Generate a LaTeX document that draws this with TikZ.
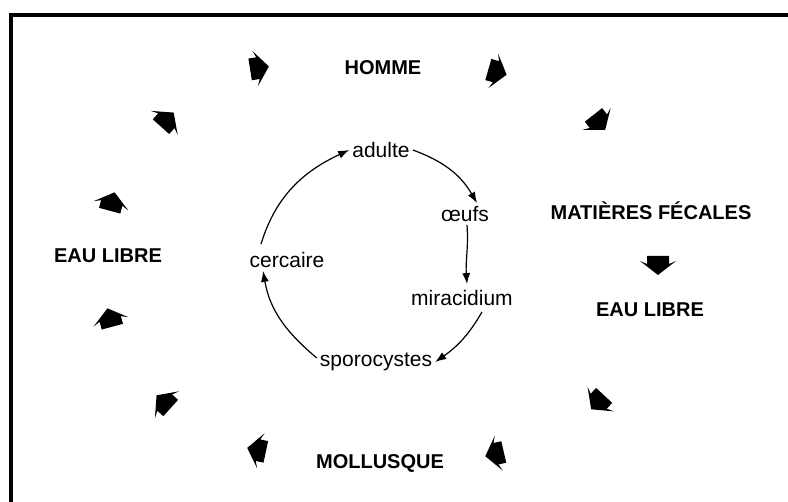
\documentclass[tikz,border=0pt]{standalone}
\usepackage{fontspec}
\setmainfont{Liberation Sans}
\usetikzlibrary{arrows.meta}
\begin{document}
\begin{tikzpicture}[x=1pt,y=1pt,
  host/.style={font=\fontsize{20}{23}\selectfont\bfseries},
  stage/.style={font=\fontsize{21}{24}\selectfont, inner sep=3pt},
  link/.style={-{Latex[length=11pt,width=8pt]}, line width=1.2pt}]
\useasboundingbox (0,0) rectangle (788,502);
\draw[line width=4.5pt] (11,0) |- (788,487);

\node[host] (homme) at (383,434) {HOMME};
\node[host] (feces) at (651,291) {MATIÈRES FÉCALES};
\node[host] (eauR) at (650,192) {EAU LIBRE};
\node[host] (mollusque) at (380,39) {MOLLUSQUE};
\node[host] (eauL) at (108,246) {EAU LIBRE};

\node[stage] (adulte) at (381,352) {adulte};
\node[stage] (oeufs) at (465,288) {œufs};
\node[stage] (miracidium) at (462,204) {miracidium};
\node[stage] (sporocystes) at (376,140) {sporocystes};
\node[stage] (cercaire) at (287,242) {cercaire};

\draw[link] ([xshift=-26pt,yshift=5pt]cercaire.north) to[out=73,in=205] (adulte.west);
\draw[link] (adulte.east) to[out=-20,in=120] ([xshift=12pt]oeufs.north);
\draw[link] ([xshift=2pt]oeufs.south) to[out=-86,in=94] ([xshift=5pt,yshift=3pt]miracidium.north);
\draw[link] ([xshift=20pt,yshift=-3pt]miracidium.south) to[out=240,in=35] (sporocystes.east);
\draw[link] ([yshift=4pt]sporocystes.west) to[out=140,in=-80] ([xshift=-24pt]cercaire.south);

\foreach \x/\y/\a in {
259/434/9, 497/430/-16, 167/382/48, 599/380/-52,
112/300/75, 110/184/105, 658/237/-90,
164/100/138, 598/100/227, 257/52/168, 495/48/193
}{
  \fill[shift={(\x,\y)}, rotate=\a]
    (10,0) -- (-4,18) -- (-1,11) -- (-9,11) -- (-9,-11) -- (-1,-11) -- (-4,-18) -- cycle;
}
\end{tikzpicture}
\end{document}
